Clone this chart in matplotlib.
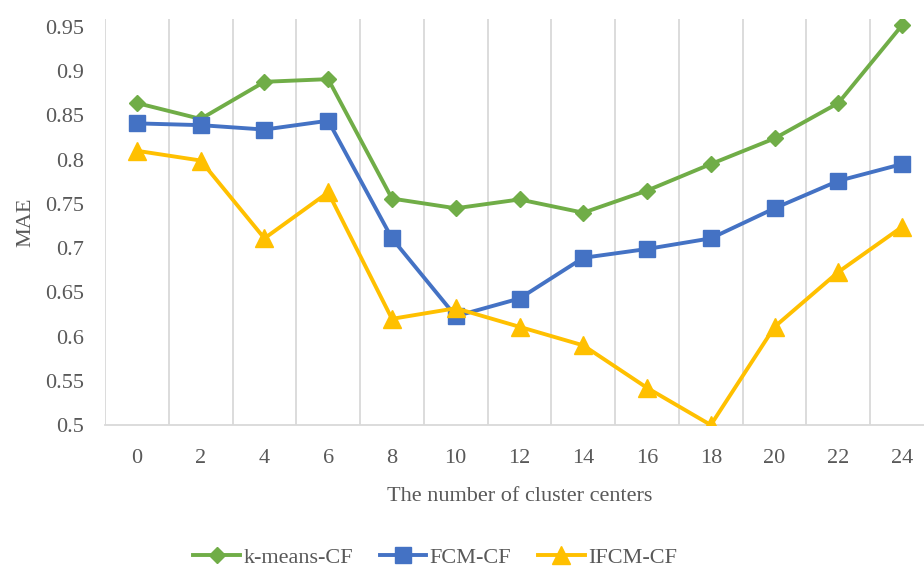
import matplotlib.pyplot as plt
import numpy as np

# Number of cluster centers and the MAE of each method
centers = [0, 2, 4, 6, 8, 10, 12, 14, 16, 18, 20, 22, 24]
kmeans_cf = [0.864, 0.846, 0.888, 0.891, 0.756, 0.745, 0.755, 0.740, 0.765, 0.795, 0.824, 0.864, 0.952]
fcm_cf = [0.841, 0.839, 0.834, 0.844, 0.711, 0.623, 0.643, 0.689, 0.699, 0.711, 0.745, 0.776, 0.795]
ifcm_cf = [0.810, 0.799, 0.711, 0.763, 0.620, 0.632, 0.611, 0.590, 0.542, 0.500, 0.611, 0.673, 0.724]
y_ticks = [0.5, 0.55, 0.6, 0.65, 0.7, 0.75, 0.8, 0.85, 0.9, 0.95]

plt.rcParams['font.family'] = ['Liberation Serif', 'DejaVu Serif']
grey = '#595959'

fig = plt.figure(figsize=(9.24, 5.67), dpi=100)
ax = fig.add_axes([105 / 924, 142 / 567, 829 / 924, 406 / 567])

x = np.arange(len(centers))
ax.plot(x, kmeans_cf, marker='D', ms=8.5, c='#70AD47', lw=2.8, label='k-means-CF', zorder=3)
ax.plot(x, fcm_cf, marker='s', ms=11.5, c='#4472C4', lw=2.8, label='FCM-CF', zorder=3)
ax.plot(x, ifcm_cf, marker='^', ms=12.5, c='#FFC000', lw=2.8, label='IFCM-CF', zorder=3)

# vertical separators between categories, like a category axis
ax.set_xlim(-0.5, len(centers) - 0.5)
ax.set_xticks(x)
ax.set_xticklabels([str(c) for c in centers])
ax.set_xticks(np.arange(-0.5, len(centers)), minor=True)
ax.grid(which='minor', axis='x', color='#D9D9D9', lw=1.3, zorder=1)
ax.tick_params(which='minor', length=0)

ax.set_ylim(0.5, 0.959)
ax.set_yticks(y_ticks)
ax.set_yticklabels(['%g' % v for v in y_ticks])

ax.tick_params(axis='both', length=0, labelsize=16, colors=grey)
ax.tick_params(axis='y', pad=15)
ax.tick_params(axis='x', pad=17)

for side in ['top', 'right', 'left']:
    ax.spines[side].set_visible(False)
ax.spines['bottom'].set_color('#D9D9D9')
ax.spines['bottom'].set_linewidth(1.3)

ax.set_xlabel('The number of cluster centers', fontsize=16, color=grey, labelpad=14)
ax.set_ylabel('MAE', fontsize=16, color=grey, labelpad=7)

fig.legend(loc='center', bbox_to_anchor=(0.471, 0.017), ncol=3, frameon=False,
           fontsize=16, labelcolor=grey, handlelength=2.1, handletextpad=0.15,
           columnspacing=1.2, borderaxespad=0)

fig.savefig('out.png', dpi=100)
